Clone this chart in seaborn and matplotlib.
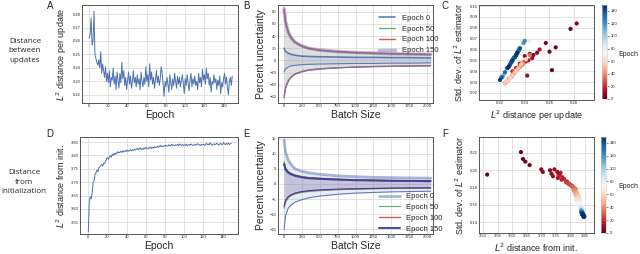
import numpy as np
import matplotlib
matplotlib.use("Agg")
import matplotlib.pyplot as plt
import seaborn as sns

sns.set_theme(style="whitegrid")
plt.rcParams["font.family"] = ["Liberation Sans", "DejaVu Sans"]
plt.rcParams["mathtext.fontset"] = "dejavusans"

# ## Data

epochs = list(range(150))

# L2 distance between consecutive updates, per epoch (panel A / C x)
dist_update = [
    0.262, 0.265, 0.277, 0.257, 0.260, 0.282, 0.250, 0.247, 0.244, 0.242,
    0.246, 0.240, 0.252, 0.236, 0.243, 0.238, 0.233, 0.241, 0.230, 0.236,
    0.229, 0.238, 0.226, 0.233, 0.231, 0.240, 0.228, 0.234, 0.224, 0.237,
    0.231, 0.225, 0.236, 0.229, 0.244, 0.232, 0.238, 0.227, 0.233, 0.224,
    0.231, 0.237, 0.228, 0.234, 0.225, 0.230, 0.238, 0.229, 0.233, 0.226,
    0.235, 0.228, 0.232, 0.224, 0.237, 0.230, 0.226, 0.233, 0.228, 0.241,
    0.230, 0.235, 0.226, 0.243, 0.231, 0.237, 0.228, 0.233, 0.225, 0.231,
    0.238, 0.229, 0.234, 0.227, 0.232, 0.241, 0.236, 0.228, 0.219, 0.230,
    0.226, 0.233, 0.228, 0.222, 0.235, 0.229, 0.224, 0.232, 0.227, 0.236,
    0.230, 0.225, 0.234, 0.228, 0.233, 0.226, 0.231, 0.235, 0.229, 0.221,
    0.232, 0.227, 0.235, 0.229, 0.223, 0.231, 0.236, 0.226, 0.232, 0.228,
    0.234, 0.227, 0.230, 0.224, 0.236, 0.229, 0.233, 0.226, 0.239, 0.231,
    0.235, 0.228, 0.240, 0.232, 0.236, 0.227, 0.233, 0.222, 0.230, 0.228,
    0.235, 0.229, 0.232, 0.224, 0.231, 0.227, 0.234, 0.221, 0.229, 0.226,
    0.232, 0.236, 0.228, 0.233, 0.226, 0.220, 0.230, 0.233, 0.227, 0.234,
]

# std. dev. of the L2 estimator, per epoch (panel C y)
std_update = [
    0.041, 0.062, 0.079, 0.066, 0.058, 0.084, 0.057, 0.055, 0.056, 0.036,
    0.052, 0.054, 0.060, 0.047, 0.050, 0.046, 0.043, 0.049, 0.040, 0.045,
    0.035, 0.047, 0.031, 0.040, 0.038, 0.049, 0.034, 0.042, 0.029, 0.046,
    0.038, 0.030, 0.044, 0.035, 0.055, 0.039, 0.047, 0.033, 0.040, 0.029,
    0.038, 0.046, 0.034, 0.042, 0.030, 0.036, 0.047, 0.035, 0.040, 0.031,
    0.043, 0.034, 0.039, 0.029, 0.046, 0.036, 0.031, 0.040, 0.034, 0.051,
    0.050, 0.059, 0.043, 0.068, 0.052, 0.062, 0.046, 0.055, 0.041, 0.052,
    0.064, 0.048, 0.057, 0.044, 0.053, 0.066, 0.061, 0.046, 0.030, 0.050,
    0.043, 0.055, 0.046, 0.035, 0.059, 0.048, 0.039, 0.053, 0.044, 0.061,
    0.050, 0.041, 0.057, 0.046, 0.055, 0.043, 0.052, 0.059, 0.048, 0.034,
    0.053, 0.044, 0.059, 0.048, 0.037, 0.052, 0.061, 0.043, 0.053, 0.046,
    0.057, 0.044, 0.050, 0.039, 0.061, 0.048, 0.055, 0.043, 0.066, 0.052,
    0.059, 0.046, 0.068, 0.053, 0.061, 0.044, 0.055, 0.035, 0.050, 0.046,
    0.059, 0.048, 0.053, 0.039, 0.052, 0.044, 0.057, 0.034, 0.048, 0.043,
    0.053, 0.061, 0.046, 0.055, 0.043, 0.032, 0.050, 0.055, 0.044, 0.057,
]

# L2 distance from initialization, per epoch (panel D / F x)
dist_init = [
    3.514, 3.630, 3.645, 3.637, 3.660, 3.700, 3.705, 3.730, 3.735, 3.745,
    3.740, 3.755, 3.757, 3.762, 3.766, 3.760, 3.772, 3.770, 3.778, 3.788,
    3.792, 3.785, 3.795, 3.800, 3.793, 3.805, 3.800, 3.808, 3.803, 3.810,
    3.808, 3.814, 3.810, 3.812, 3.816, 3.811, 3.818, 3.813, 3.815, 3.819,
    3.814, 3.820, 3.816, 3.818, 3.822, 3.817, 3.821, 3.819, 3.824, 3.820,
    3.823, 3.827, 3.821, 3.825, 3.829, 3.823, 3.826, 3.822, 3.828, 3.825,
    3.830, 3.826, 3.824, 3.829, 3.827, 3.832, 3.826, 3.830, 3.828, 3.833,
    3.829, 3.831, 3.835, 3.830, 3.833, 3.838, 3.832, 3.836, 3.833, 3.835,
    3.839, 3.834, 3.837, 3.835, 3.840, 3.836, 3.838, 3.842, 3.837, 3.839,
    3.836, 3.840, 3.838, 3.841, 3.837, 3.843, 3.839, 3.838, 3.841, 3.837,
    3.840, 3.838, 3.842, 3.836, 3.839, 3.841, 3.838, 3.843, 3.840, 3.837,
    3.839, 3.842, 3.838, 3.841, 3.844, 3.839, 3.840, 3.837, 3.841, 3.839,
    3.842, 3.838, 3.840, 3.845, 3.841, 3.843, 3.839, 3.847, 3.842, 3.838,
    3.841, 3.844, 3.840, 3.842, 3.846, 3.841, 3.839, 3.843, 3.845, 3.840,
    3.842, 3.848, 3.843, 3.840, 3.845, 3.842, 3.846, 3.841, 3.844, 3.845,
]

# std. dev. of the L2 estimator, per epoch (panel F y)
std_init = [
    0.195, 0.221, 0.210, 0.213, 0.206, 0.201, 0.198, 0.200, 0.196, 0.201,
    0.193, 0.198, 0.191, 0.195, 0.197, 0.194, 0.192, 0.189, 0.190, 0.187,
    0.185, 0.186, 0.184, 0.183, 0.185, 0.182, 0.183, 0.181, 0.182, 0.180,
    0.181, 0.179, 0.180, 0.178, 0.179, 0.177, 0.178, 0.176, 0.177, 0.175,
    0.176, 0.174, 0.175, 0.173, 0.174, 0.172, 0.173, 0.171, 0.172, 0.170,
    0.171, 0.169, 0.170, 0.168, 0.169, 0.167, 0.168, 0.166, 0.167, 0.165,
    0.166, 0.165, 0.166, 0.164, 0.165, 0.163, 0.164, 0.162, 0.163, 0.161,
    0.162, 0.161, 0.160, 0.161, 0.159, 0.160, 0.158, 0.159, 0.157, 0.158,
    0.157, 0.158, 0.156, 0.157, 0.155, 0.156, 0.154, 0.155, 0.156, 0.154,
    0.154, 0.152, 0.153, 0.151, 0.154, 0.150, 0.152, 0.153, 0.151, 0.154,
    0.152, 0.153, 0.150, 0.154, 0.152, 0.151, 0.153, 0.149, 0.151, 0.153,
    0.152, 0.150, 0.153, 0.151, 0.149, 0.152, 0.151, 0.153, 0.150, 0.152,
    0.150, 0.152, 0.151, 0.148, 0.150, 0.149, 0.151, 0.147, 0.149, 0.151,
    0.150, 0.148, 0.150, 0.149, 0.147, 0.149, 0.151, 0.148, 0.147, 0.150,
    0.149, 0.146, 0.148, 0.150, 0.147, 0.149, 0.147, 0.149, 0.148, 0.146,
]

# Percent uncertainty vs batch size (panels B and E)
batch_sizes = [5, 25, 62, 100, 157, 250, 344, 500, 750, 1000, 1250, 1500, 1750, 2048]
epoch_labels = ["Epoch 0", "Epoch 50", "Epoch 100", "Epoch 150"]

upd_upper = {
    "Epoch 0":   [20, 15, 12, 10, 8.5, 7.0, 6.5, 6.0, 5.5, 5.0, 5.0, 4.5, 4.5, 4.0],
    "Epoch 50":  [82, 62, 46, 37, 29, 23, 19.5, 16.5, 14, 12.5, 11.5, 10.5, 10, 9.5],
    "Epoch 100": [84, 63, 47, 38, 30, 24, 20, 17, 14.5, 13, 12, 11, 10.5, 9.8],
    "Epoch 150": [85, 64, 47, 38, 30, 24, 20, 17, 14.5, 13, 12, 11, 10.5, 10],
}
upd_lower = {
    "Epoch 0":   [-19, -14, -11, -9, -8, -7, -6.5, -6, -5.5, -5, -5, -4.5, -4.5, -4],
    "Epoch 50":  [-58, -44, -33, -27, -22, -18, -15.5, -13.5, -12, -11, -10, -9.5, -9, -8.5],
    "Epoch 100": [-60, -45, -34, -28, -22.5, -18.5, -16, -14, -12, -11, -10, -9.5, -9, -8.8],
    "Epoch 150": [-62, -46, -35, -28, -23, -19, -16.5, -14.5, -12.5, -11, -10.5, -10, -9.5, -9],
}
init_upper = {
    "Epoch 0":   [14.5, 10.5, 7.9, 6.5, 5.0, 4.2, 3.7, 3.2, 2.7, 2.4, 2.2, 2.1, 2.0, 1.9],
    "Epoch 50":  [7.5, 5.5, 4.2, 3.6, 3.0, 2.5, 2.2, 1.9, 1.6, 1.4, 1.3, 1.2, 1.15, 1.1],
    "Epoch 100": [6.8, 5.0, 3.9, 3.3, 2.8, 2.3, 2.0, 1.8, 1.5, 1.3, 1.2, 1.1, 1.05, 1.0],
    "Epoch 150": [6.5, 4.8, 3.7, 3.2, 2.7, 2.2, 1.9, 1.7, 1.45, 1.25, 1.15, 1.05, 1.0, 0.95],
}
init_lower = {
    "Epoch 0":   [-15, -10.5, -8.0, -7.0, -6.0, -5.2, -4.6, -4.0, -3.4, -3.0, -2.8, -2.6, -2.5, -2.4],
    "Epoch 50":  [-8.0, -6.0, -4.6, -3.9, -3.3, -2.8, -2.5, -2.2, -1.9, -1.7, -1.6, -1.5, -1.45, -1.4],
    "Epoch 100": [-7.5, -5.6, -4.3, -3.7, -3.1, -2.6, -2.3, -2.0, -1.8, -1.6, -1.5, -1.4, -1.35, -1.3],
    "Epoch 150": [-7.2, -5.4, -4.2, -3.6, -3.0, -2.5, -2.2, -1.95, -1.7, -1.55, -1.45, -1.35, -1.3, -1.25],
}

# ## Figure

W, H = 640, 254
fig = plt.figure(figsize=(W / 100, H / 100), dpi=100)


def box(left, top, right, bottom):
    return [left / W, 1 - bottom / H, (right - left) / W, (bottom - top) / H]


TICK_FS = 3
LABEL_FS = 6.5


def style(ax):
    ax.tick_params(labelsize=TICK_FS, pad=1, length=0)
    ax.grid(True, color="#dddddd", lw=0.6)
    for s in ax.spines.values():
        s.set_color("#555555")
        s.set_linewidth(0.7)


line_color = "#4C72B0"

# A: distance between updates
axA = fig.add_axes(box(82, 5, 238, 103))
sns.lineplot(x=epochs, y=dist_update, ax=axA, color=line_color, lw=0.7)
axA.set_xlim(-7.5, 155)
axA.set_ylim(0.214, 0.2867)
axA.set_xticks(range(0, 141, 20))
axA.set_yticks(np.arange(0.22, 0.285, 0.01))
axA.set_xlabel("Epoch", fontsize=7.5, labelpad=1)
axA.set_ylabel("$L^2$ distance per update", fontsize=LABEL_FS, labelpad=3)
style(axA)

# D: distance from init
axD = fig.add_axes(box(80, 137, 238, 234))
sns.lineplot(x=epochs, y=dist_init, ax=axD, color=line_color, lw=0.7)
axD.set_xlim(-8.7, 156)
axD.set_ylim(3.506, 3.869)
axD.set_xticks(range(0, 141, 20))
axD.set_yticks(np.arange(3.55, 3.86, 0.05))
axD.set_xlabel("Epoch", fontsize=7.5, labelpad=1)
axD.set_ylabel("$L^2$ distance from init.", fontsize=LABEL_FS, labelpad=3)
style(axD)


def uncertainty_panel(ax, upper, lower, colors, widths, alphas, fill_colors):
    for lab in epoch_labels:
        ax.fill_between(batch_sizes, lower[lab], upper[lab],
                        color=fill_colors[lab], alpha=0.12, lw=0)
    for lab in epoch_labels:
        sns.lineplot(x=batch_sizes, y=upper[lab], ax=ax, color=colors[lab],
                     lw=0.8, label=lab, alpha=0.9)
        sns.lineplot(x=batch_sizes, y=lower[lab], ax=ax, color=colors[lab],
                     lw=0.8, alpha=0.9)
    ax.set_xlim(-80, 2080)
    ax.set_xticks(range(0, 2001, 250))
    ax.set_xlabel("Batch Size", fontsize=7.5, labelpad=1)
    ax.set_ylabel("Percent uncertainty", fontsize=7.5, labelpad=3)
    style(ax)
    handles, labels = ax.get_legend_handles_labels()
    for h, lab in zip(handles, labels):
        h.set_linewidth(widths[lab])
        h.set_alpha(alphas[lab])
    return handles, labels


# B
axB = fig.add_axes(box(278, 5, 433, 103))
colorsB = {"Epoch 0": "#4C72B0", "Epoch 50": "#55A868",
           "Epoch 100": "#C44E52", "Epoch 150": "#8172B2"}
fillB = {"Epoch 0": "#4C72B0", "Epoch 50": "#a0a0a0",
         "Epoch 100": "#a0a0a0", "Epoch 150": "#a0a0a0"}
h, l = uncertainty_panel(axB, upd_upper, upd_lower, colorsB,
                         {"Epoch 0": 1.2, "Epoch 50": 1.0, "Epoch 100": 1.0, "Epoch 150": 2.5},
                         {"Epoch 0": 0.9, "Epoch 50": 0.9, "Epoch 100": 0.9, "Epoch 150": 0.5},
                         fillB)
axB.set_ylim(-70, 91)
axB.set_yticks(range(-60, 81, 20))
axB.legend(h, l, loc="upper left", bbox_to_anchor=(0.62, 0.95), frameon=False,
           fontsize=5.5, handlelength=2.2, borderpad=0.1, labelspacing=0.45)

# E
axE = fig.add_axes(box(278, 137, 433, 234))
colorsE = {"Epoch 0": "#4C72B0", "Epoch 50": "#55A868",
           "Epoch 100": "#C44E52", "Epoch 150": "#3b3b98"}
fillE = {"Epoch 0": "#4C72B0", "Epoch 50": "#8172B2",
         "Epoch 100": "#8172B2", "Epoch 150": "#8172B2"}
h, l = uncertainty_panel(axE, init_upper, init_lower, colorsE,
                         {"Epoch 0": 2.0, "Epoch 50": 0.8, "Epoch 100": 1.0, "Epoch 150": 1.5},
                         {"Epoch 0": 0.5, "Epoch 50": 0.9, "Epoch 100": 0.9, "Epoch 150": 0.9},
                         fillE)
axE.set_ylim(-16.5, 15.5)
axE.set_yticks(range(-15, 16, 5))
axE.legend(h, l, loc="upper left", bbox_to_anchor=(0.62, 0.47), frameon=False,
           fontsize=5.5, handlelength=2.8, borderpad=0.1, labelspacing=0.45)


def scatter_panel(ax, cax, x, y):
    sc = ax.scatter(x, y, c=epochs, cmap="RdBu", vmin=0, vmax=149, s=9, lw=0)
    cb = fig.colorbar(sc, cax=cax)
    cb.set_ticks(range(0, 141, 20))
    cb.ax.tick_params(labelsize=TICK_FS, length=1.5, width=0.4, pad=1)
    cb.outline.set_linewidth(0.4)
    style(ax)


# C
axC = fig.add_axes(box(479, 5, 594, 100))
caxC = fig.add_axes(box(602, 5, 607, 99))
scatter_panel(axC, caxC, dist_update, std_update)
axC.set_xlim(0.203, 0.296)
axC.set_ylim(0.0135, 0.101)
axC.set_xticks([0.22, 0.24, 0.26, 0.28])
axC.set_yticks(np.arange(0.02, 0.105, 0.01))
axC.set_xlabel("$L^2$ distance per update", fontsize=LABEL_FS, labelpad=2)
axC.set_ylabel("Std. dev. of $L^2$ estimator", fontsize=LABEL_FS, labelpad=3)
fig.text(628 / W, 1 - 54 / H, "Epoch", fontsize=5, ha="center", va="center")

# F
axF = fig.add_axes(box(479, 137, 594, 233))
caxF = fig.add_axes(box(601, 137, 606, 233))
scatter_panel(axF, caxF, dist_init, std_init)
axF.set_xlim(3.486, 3.881)
axF.set_ylim(0.1273, 0.2385)
axF.set_xticks(np.arange(3.50, 3.86, 0.05))
axF.set_yticks(np.arange(0.14, 0.23, 0.02))
axF.set_xlabel("$L^2$ distance from init.", fontsize=LABEL_FS, labelpad=2)
axF.set_ylabel("Std. dev. of $L^2$ estimator", fontsize=LABEL_FS, labelpad=3)
fig.text(628 / W, 1 - 186 / H, "Epoch", fontsize=5, ha="center", va="center")

# panel letters
for letter, (px, py) in zip("ABCDEF", [(50, 6), (246, 6), (445, 6),
                                       (50, 134), (246, 134), (445, 134)]):
    fig.text(px / W, 1 - py / H, letter, fontsize=7, ha="center", va="center")

# row labels
fig.text(25 / W, 1 - 51 / H, "Distance\nbetween\nupdates", fontsize=5.8,
         ha="center", va="center", linespacing=1.45, family="Open Sans")
fig.text(24 / W, 1 - 182 / H, "Distance\nfrom\ninitialization", fontsize=5.8,
         ha="center", va="center", linespacing=1.45, family="Open Sans")

fig.savefig("out.png", dpi=100)
